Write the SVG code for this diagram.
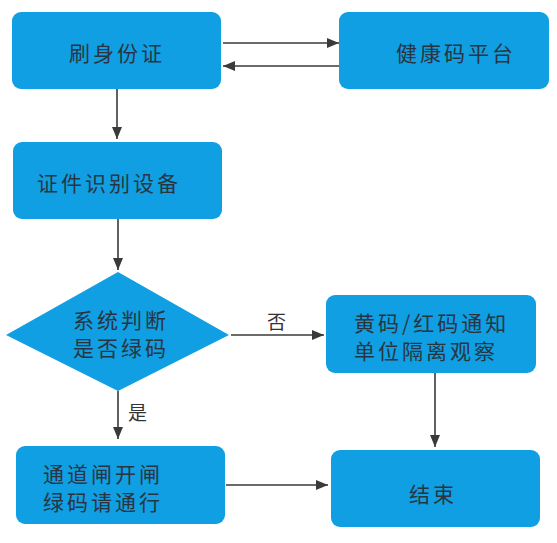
<svg xmlns="http://www.w3.org/2000/svg" width="557" height="543" viewBox="0 0 557 543">
<style>
.box{fill:#0f9fe2;}
.t{font-family:"Noto Sans CJK SC","Noto Sans",sans-serif;font-size:21px;fill:#283541;letter-spacing:3px;dominant-baseline:central;}
.lbl{font-family:"Noto Sans CJK SC","Noto Sans",sans-serif;font-size:19px;fill:#333;dominant-baseline:central;}
.ln{stroke:#3a3a3a;stroke-width:1.6;fill:none;marker-end:url(#ah);}
</style>
<defs>
<marker id="ah" viewBox="0 0 12 10" refX="12" refY="5" markerWidth="12" markerHeight="10" markerUnits="userSpaceOnUse" orient="auto">
<path d="M0,0 L12,5 L0,10 Z" fill="#3a3a3a"/>
</marker>
</defs>
<rect width="557" height="543" fill="#fff"/>
<g id="connectors">
<line class="ln" x1="223" y1="43" x2="339" y2="43"/>
<line class="ln" x1="339" y1="66" x2="223" y2="66"/>
<line class="ln" x1="117" y1="89" x2="117" y2="139"/>
<line class="ln" x1="118" y1="219" x2="118" y2="270"/>
<line class="ln" x1="231" y1="335" x2="324" y2="335"/>
<line class="ln" x1="118" y1="391" x2="118" y2="439"/>
<line class="ln" x1="435" y1="373" x2="435" y2="447"/>
<line class="ln" x1="226" y1="485" x2="328" y2="485"/>
<text class="lbl" x="267" y="320">否</text>
<text class="lbl" x="128" y="411">是</text>
</g>
<g id="n1">
<rect class="box" x="12" y="12" width="209" height="77" rx="9"/>
<text class="t" x="117" y="52" text-anchor="middle">刷身份证</text>
</g>
<g id="n2">
<rect class="box" x="339" y="12" width="210" height="77" rx="9"/>
<text class="t" x="396" y="52">健康码平台</text>
</g>
<g id="n3">
<rect class="box" x="13" y="142" width="209" height="77" rx="9"/>
<text class="t" x="37" y="182">证件识别设备</text>
</g>
<g id="n4">
<polygon class="box" points="118,272 229,335 118,391 6,335"/>
<text class="t" x="73" y="319">系统判断</text>
<text class="t" x="73" y="347">是否绿码</text>
</g>
<g id="n5">
<rect class="box" x="326" y="295" width="210" height="78" rx="9"/>
<text class="t" x="354" y="322">黄码/红码通知</text>
<text class="t" x="354" y="350">单位隔离观察</text>
</g>
<g id="n6">
<rect class="box" x="16" y="446" width="209" height="78" rx="9"/>
<text class="t" x="43" y="473">通道闸开闸</text>
<text class="t" x="43" y="501">绿码请通行</text>
</g>
<g id="n7">
<rect class="box" x="331" y="450" width="209" height="77" rx="9"/>
<text class="t" x="433" y="493" text-anchor="middle">结束</text>
</g>
</svg>
